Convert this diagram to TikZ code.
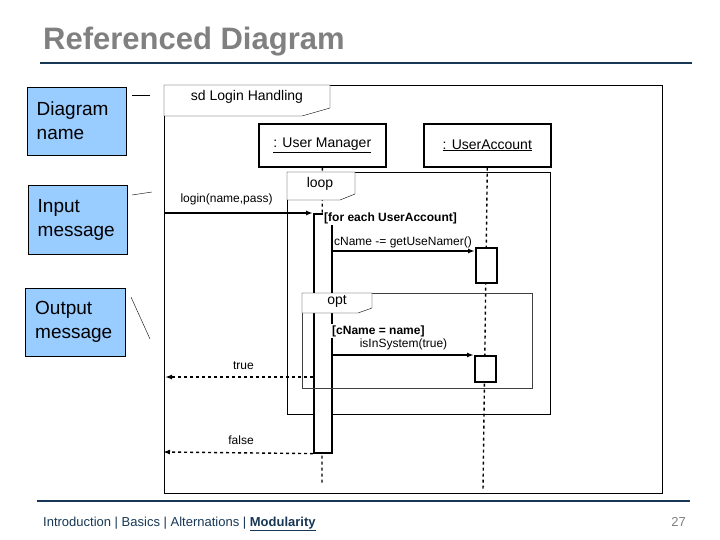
\documentclass[tikz,border=0pt]{standalone}
\usepackage{fontspec}
\setmainfont{Liberation Sans}
\usetikzlibrary{positioning,arrows.meta}
\definecolor{noteblue}{RGB}{153,204,255}
\definecolor{rulecol}{RGB}{23,55,84}
\definecolor{titlegray}{RGB}{128,128,128}

\begin{document}
\begin{tikzpicture}
    [x=1pt,y=-1pt,
     note/.style={rectangle,draw=black,fill=noteblue,anchor=north west,inner sep=0pt,font=\fontsize{19}{24}\selectfont,align=left},
     obj/.style={rectangle,draw,line width=1.6pt,anchor=north west,inner sep=0pt,minimum width=127pt,minimum height=43pt,font=\fontsize{14}{16}\selectfont},
     bar/.style={rectangle,draw,line width=1.6pt,fill=white,anchor=north west,inner sep=0pt},
     msg/.style={font=\fontsize{12}{14}\selectfont},
     guard/.style={font=\bfseries\fontsize{12}{14}\selectfont,anchor=west,fill=white,inner sep=1pt},
     call/.style={line width=1.4pt,-{Latex[length=7pt,width=5pt]}},
     reply/.style={line width=1.4pt,dashed,-{Latex[length=7pt,width=5pt]}},
     life/.style={line width=1.4pt,dashed}]

    \useasboundingbox (0,0) rectangle (720,540);

    % title and rules
    \node[anchor=base west,text=titlegray,font=\bfseries\fontsize{31}{36}\selectfont,inner sep=0pt] (title) at (43,50) {Referenced Diagram};
    \draw[rulecol,line width=2pt] (40,63) -- (692,63);
    \draw[rulecol,line width=2pt] (37,501) -- (690,501);
    \node[anchor=base west,inner sep=0pt,text=rulecol,font=\fontsize{13}{15}\selectfont] (footer) at (43,526)
      {Introduction | Basics | Alternations | \textbf{\underline{Modularity}}};
    \node[anchor=base east,inner sep=0pt,text=titlegray,font=\fontsize{13}{15}\selectfont] (page) at (686,526) {27};

    % notes on the left
    \node[note,minimum width=99pt,minimum height=68pt,text width=94pt] (diagname) at (27,87) {\hspace*{7pt}Diagram\\\hspace*{7pt}name};
    \node[note,minimum width=99pt,minimum height=69pt,text width=94pt] (inmsg) at (28,185) {\hspace*{7pt}Input\\\hspace*{7pt}message};
    \node[note,minimum width=100pt,minimum height=68pt,text width=94pt] (outmsg) at (25,288) {\hspace*{7pt}Output\\\hspace*{7pt}message};
    \draw (132,95) -- (150,95);
    \draw (132,195) -- (152,192);
    \draw (131,297) -- (150,339);

    % sequence frame
    \draw (164,85) rectangle (662,493);
    \draw[fill=white] (164,85) -- (330,85) -- (330,108) -- (302,116) -- (164,116) -- cycle;
    \node[font=\fontsize{14}{16}\selectfont] (sdname) at (247,97) {sd Login Handling};

    % lifelines
    \node[obj] (manager) at (258,123) {\underline{: User Manager}};
    \node[obj] (account) at (423,123) {\underline{: UserAccount}};
    \draw[life] (manager.south) -- (322,485);
    \draw[life] (account.south) -- (483,490);

    % loop fragment
    \draw (287,172) rectangle (550,414);
    \draw[fill=white] (287,172) -- (355,172) -- (355,194) -- (340,200) -- (287,200) -- cycle;
    \node[font=\fontsize{14}{16}\selectfont] (looplbl) at (320,184) {loop};

    % activation bars
    \node[bar,minimum width=18pt,minimum height=239pt] (mgrbar) at (313,213) {};
    \node[bar,minimum width=21pt,minimum height=35pt] (accbar1) at (475,247) {};
    \node[bar,minimum width=21pt,minimum height=26pt] (accbar2) at (474,355) {};

    % opt fragment
    \draw[draw=black!75] (302,293) rectangle (532,388);
    \draw[fill=white] (302,293) -- (372,293) -- (372,308) -- (358,313) -- (302,313) -- cycle;
    \node[font=\fontsize{14}{16}\selectfont] (optlbl) at (337,301) {opt};

    % guards
    \node[guard] (guard1) at (323,218) {[for each UserAccount]};
    \node[guard] (guard2) at (331,331) {[cName = name]};

    % messages
    \coordinate (gate1) at (164,213);
    \draw[call] (gate1) -- (mgrbar.north west) node[msg,pos=0.42,above=4pt] {login(name,pass)};
    \draw[call] (331,251) -- (accbar1.west |- 0,251) node[msg,midway,above=-1pt] {cName -= getUseNamer()};
    \draw[call] (333,355) -- (accbar2.north west) node[msg,midway,above=1pt] {isInSystem(true)};
    \coordinate (gate2) at (165,377);
    \coordinate (gate3) at (163,452);
    \draw[reply] (mgrbar.west |- 0,377) -- (gate2) node[msg,pos=0.47,above=3pt] {true};
    \draw[reply] (mgrbar.south west) -- (gate3) node[msg,pos=0.48,above=4pt] {false};
\end{tikzpicture}
\end{document}
